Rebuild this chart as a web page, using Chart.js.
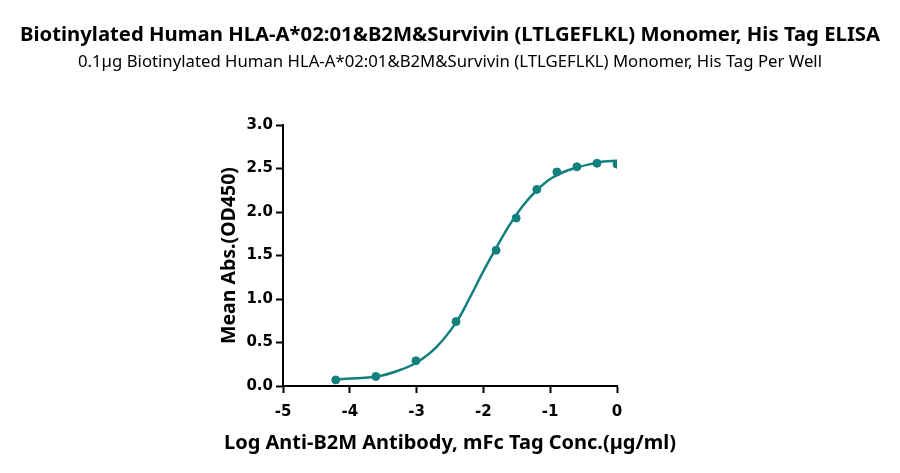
<!DOCTYPE html>
<html>
<head>
<meta charset="utf-8">
<script src="https://cdn.jsdelivr.net/npm/chart.js@4"></script>
<style>
  html, body { margin: 0; padding: 0; background: #fff; }
  #wrap { width: 900px; height: 473px; }
</style>
</head>
<body>
<div id="wrap"><canvas id="elisaChart"></canvas></div>
<script>
// log concentration (µg/ml) and mean OD450 of the measured points
const logConc = [-4.21, -3.61, -3.01, -2.41, -1.81, -1.51, -1.20, -0.90, -0.60, -0.30, 0.0];
const meanOD = [0.07, 0.11, 0.29, 0.74, 1.56, 1.93, 2.26, 2.46, 2.52, 2.56, 2.55];

// fitted curve
const fitX = [-4.21, -3.6, -3.3, -3.0, -2.7, -2.4, -2.2, -2.0, -1.8, -1.6, -1.4, -1.2, -1.0, -0.8, -0.6, -0.4, -0.2, 0.0];
const fitY = [0.075, 0.11, 0.17, 0.27, 0.45, 0.74, 1.02, 1.32, 1.60, 1.86, 2.08, 2.25, 2.38, 2.46, 2.51, 2.55, 2.58, 2.59];

const xTicks = [-5, -4, -3, -2, -1, 0];
const yTicks = [0.0, 0.5, 1.0, 1.5, 2.0, 2.5, 3.0];

const chartTitle = 'Biotinylated Human HLA-A*02:01&B2M&Survivin (LTLGEFLKL) Monomer, His Tag ELISA';
const chartSubtitle = '0.1µg Biotinylated Human HLA-A*02:01&B2M&Survivin (LTLGEFLKL) Monomer, His Tag Per Well';
const xTitle = 'Log Anti-B2M Antibody, mFc Tag Conc.(µg/ml)';

const teal = '#12807f';

// titles are centred on the whole canvas, not on the plot area
const pageText = {
  id: 'pageText',
  afterDraw(chart) {
    const c = chart.ctx;
    const mid = chart.width / 2;
    c.save();
    c.fillStyle = '#000';
    c.textAlign = 'center';
    c.textBaseline = 'alphabetic';
    c.font = 'bold 20.4px "Noto Sans", sans-serif';
    c.fillText(chartTitle, mid, 41, 860);
    c.font = '16.8px "Noto Sans", sans-serif';
    c.fillText(chartSubtitle, mid, 67, 744);
    c.font = 'bold 20px "Noto Sans", sans-serif';
    c.fillText(xTitle, mid, 449, 452);
    c.restore();
  }
};

const ctx = document.getElementById('elisaChart');

new Chart(ctx, {
  type: 'scatter',
  data: {
    datasets: [{
      label: 'Fit',
      type: 'line',
      data: fitX.map((x, i) => ({ x: x, y: fitY[i] })),
      borderColor: teal,
      borderWidth: 2.5,
      pointRadius: 0,
      tension: 0.4,
      fill: false
    }, {
      label: 'Mean Abs.',
      data: logConc.map((x, i) => ({ x: x, y: meanOD[i] })),
      backgroundColor: teal,
      borderColor: teal,
      pointRadius: 4,
      pointHoverRadius: 4
    }]
  },
  plugins: [pageText],
  options: {
    responsive: true,
    maintainAspectRatio: false,
    animation: false,
    layout: { padding: { left: 218, right: 283, top: 125, bottom: 21 } },
    plugins: {
      legend: { display: false },
      tooltip: { enabled: false },
      title: { display: false },
      subtitle: { display: false }
    },
    scales: {
      x: {
        type: 'linear',
        min: -5,
        max: 0,
        afterBuildTicks: function(scale) {
          scale.ticks = xTicks.map(v => ({ value: v }));
        },
        afterFit: function(scale) { scale.height = 66; },
        grid: {
          display: true,
          drawOnChartArea: false,
          drawTicks: true,
          tickLength: 7,
          tickWidth: 2,
          tickColor: '#000'
        },
        border: { display: true, color: '#000', width: 2 },
        ticks: {
          color: '#000',
          padding: 10,
          maxRotation: 0,
          font: { family: '"DejaVu Sans", sans-serif', size: 15, weight: 'bold' }
        },
        title: { display: false }
      },
      y: {
        type: 'linear',
        min: 0,
        max: 3,
        afterBuildTicks: function(scale) {
          scale.ticks = yTicks.map(v => ({ value: v }));
        },
        afterFit: function(scale) { scale.width = 65; },
        grid: {
          display: true,
          drawOnChartArea: false,
          drawTicks: true,
          tickLength: 7,
          tickWidth: 2,
          tickColor: '#000'
        },
        border: { display: true, color: '#000', width: 2 },
        ticks: {
          color: '#000',
          padding: 3,
          font: { family: '"DejaVu Sans", sans-serif', size: 15, weight: 'bold' },
          callback: function(value) { return value.toFixed(1); }
        },
        title: {
          display: true,
          text: 'Mean Abs.(OD450)',
          color: '#000',
          font: { family: '"Noto Sans", sans-serif', size: 19.5, weight: 'bold' },
          padding: { top: 0, bottom: 4 }
        }
      }
    }
  }
});
</script>
</body>
</html>
